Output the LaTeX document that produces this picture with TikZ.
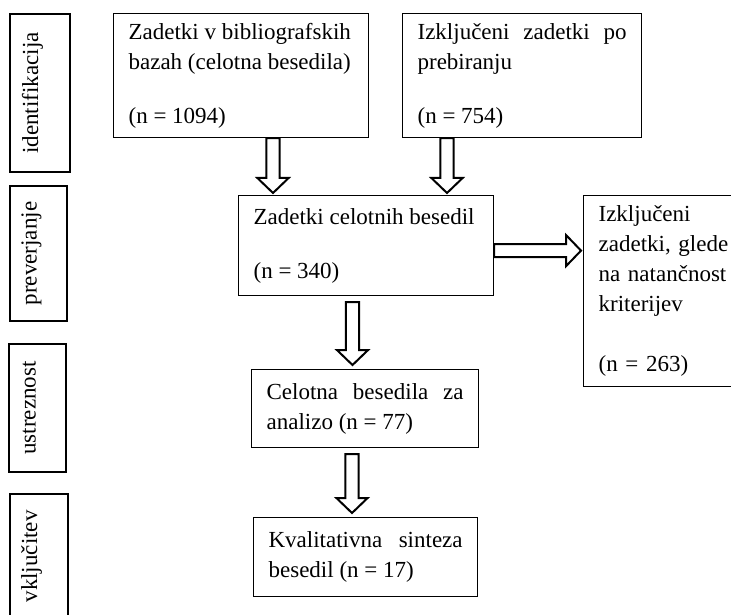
\documentclass[tikz,border=0pt]{standalone}
\usepackage{fontspec}
\setmainfont{Liberation Serif}
\usetikzlibrary{calc}
\newcommand{\boxfont}{\fontsize{11.5pt}{15pt}\selectfont}
\newcommand{\shaftw}{3.3pt}
\newcommand{\headw}{7.8pt}
\newcommand{\headl}{7.5pt}

\begin{document}
\begin{tikzpicture}[x=0.5pt, y=-0.5pt,
    stagebox/.style={draw, line width=0.6pt, rotate=90, font=\boxfont,
        text height=8pt, text depth=10pt, inner sep=0pt},
    flowbox/.style={draw, line width=0.6pt, anchor=north west, font=\boxfont,
        inner xsep=7.5pt, inner ysep=2pt, align=justify},
    downblock/.style={line width=1pt, to path={
        let \p1=(\tikztostart), \p2=(\tikztotarget) in
        (\x1-\shaftw,\y1) -- (\x1-\shaftw,\y2+\headl) -- (\x1-\headw,\y2+\headl) -- (\x1,\y2)
        -- (\x1+\headw,\y2+\headl) -- (\x1+\shaftw,\y2+\headl) -- (\x1+\shaftw,\y1) -- cycle}},
    rightblock/.style={line width=1pt, to path={
        let \p1=(\tikztostart), \p2=(\tikztotarget) in
        (\x1,\y1-\shaftw) -- (\x2-\headl,\y1-\shaftw) -- (\x2-\headl,\y1-\headw) -- (\x2,\y1)
        -- (\x2-\headl,\y1+\headw) -- (\x2-\headl,\y1+\shaftw) -- (\x1,\y1+\shaftw) -- cycle}}]
    \useasboundingbox (0,0) rectangle (731,614);
    \clip (0,0) rectangle (731,614);

    \node[stagebox, minimum width=79pt, minimum height=30pt] (ident) at (40,93) {identifikacija};
    \node[stagebox, minimum width=67.5pt, minimum height=28.5pt] (prev) at (38.5,253.5) {preverjanje};
    \node[stagebox, minimum width=64pt, minimum height=28.5pt] (ustr) at (37.5,408) {ustreznost};
    \node[stagebox, minimum width=62.5pt, minimum height=29pt] (vklj) at (39,556.5) {vključitev};

    \node[flowbox, text width=112.5pt, minimum height=62pt] (zad) at (113,13)
        {Zadetki v bibliografskih\\bazah (celotna besedila)\\[12pt](n = 1094)};
    \node[flowbox, text width=104.5pt, minimum height=62pt] (izk) at (402,13)
        {Izključeni zadetki po\linebreak prebiranju\\[12pt](n = 754)};
    \node[flowbox, text width=112.5pt, minimum height=50pt] (cel) at (238,195)
        {Zadetki celotnih besedil\\[12pt](n = 340)};
    \node[flowbox, align=left, text width=66pt, minimum height=95.5pt] (kri) at (583,195)
        {Izključeni\\zadetki, glede\\na natančnost\\kriterijev\\[15pt](n = 263)};
    \node[flowbox, text width=98.5pt, minimum height=39pt] (ana) at (251,369)
        {Celotna besedila za\linebreak analizo (n = 77)};
    \node[flowbox, text width=97pt, minimum height=39.5pt] (sin) at (253,517)
        {Kvalitativna sinteza\linebreak besedil (n = 17)};

    \draw[downblock] ([xshift=80pt]zad.south west) to ([yshift=1pt]cel.north);
    \draw[downblock] ([xshift=22.5pt]izk.south west) to ([yshift=1pt]cel.north);
    \draw[rightblock] ([yshift=-2.5pt]cel.east) to ([xshift=-1pt]kri.west);
    \draw[downblock] ([xshift=57.25pt,yshift=-3pt]cel.south west) to ([yshift=2pt]ana.north);
    \draw[downblock] ([xshift=50.5pt,yshift=-3pt]ana.south west) to ([yshift=2pt]sin.north);
\end{tikzpicture}
\end{document}
